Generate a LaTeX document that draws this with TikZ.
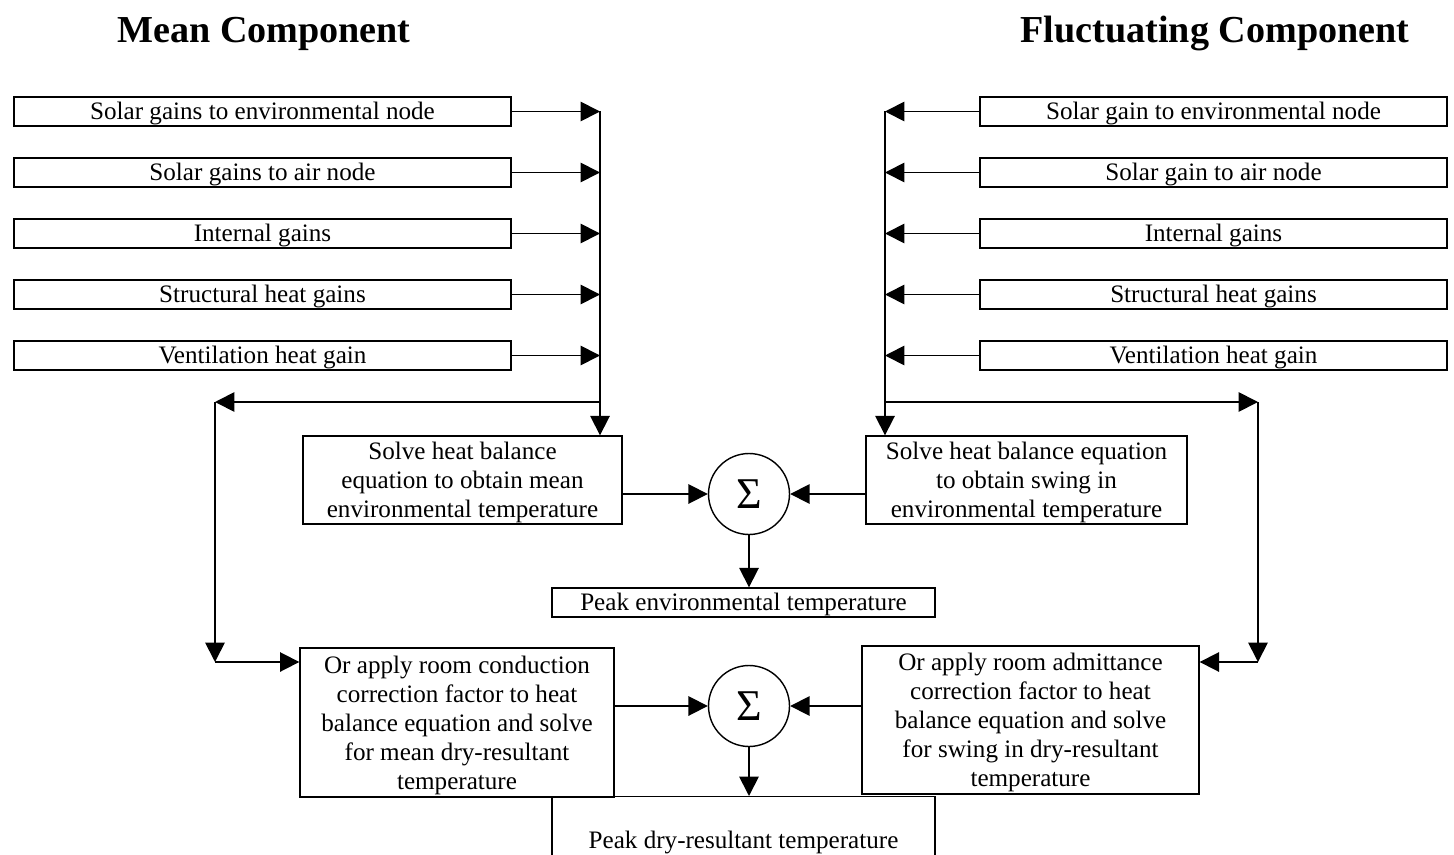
\documentclass[tikz,border=0pt]{standalone}
\usepackage{fontspec}
\setmainfont{Liberation Serif}
\usetikzlibrary{arrows.meta}

\tikzset{
  heading/.style={anchor=base, font=\fontsize{21.7}{24}\selectfont\bfseries},
  gainbox/.style={draw, line width=0.8pt, minimum height=0.58cm, inner sep=0pt,
    text height=12pt, text depth=3pt, font=\fontsize{14.3}{16.8}\selectfont},
  calcbox/.style={draw, line width=0.8pt, align=center, inner sep=0pt,
    text depth=-2pt, font=\fontsize{14.3}{16.5}\selectfont},
  peakbox/.style={gainbox, minimum width=7.66cm},
  sumnode/.style={draw, circle, line width=0.8pt, minimum size=1.62cm, inner sep=0pt,
    font=\fontsize{25}{25}\selectfont},
  wire/.style={line width=1pt},
  flow/.style={wire, -{Triangle[length=11pt,width=11pt]}},
}

\begin{document}
\begin{tikzpicture}[x=0.02cm, y=-0.02cm]
  \useasboundingbox (0,0) rectangle (1454,855);

  % headings
  \node[heading] at (264,43) (meanhead) {Mean Component};
  \node[heading] at (1215,43) (fluchead) {Fluctuating Component};

  % mean inputs
  \node[gainbox, minimum width=9.94cm] at (262.5,111.5) (msolenv) {Solar gains to environmental node};
  \node[gainbox, minimum width=9.94cm] at (262.5,172.5) (msolair) {Solar gains to air node};
  \node[gainbox, minimum width=9.94cm] at (262.5,233.5) (mint) {Internal gains};
  \node[gainbox, minimum width=9.94cm] at (262.5,294.5) (mstruct) {Structural heat gains};
  \node[gainbox, minimum width=9.94cm] at (262.5,355.5) (mvent) {Ventilation heat gain};

  % fluctuating inputs
  \node[gainbox, minimum width=9.34cm] at (1213.5,111.5) (fsolenv) {Solar gain to environmental node};
  \node[gainbox, minimum width=9.34cm] at (1213.5,172.5) (fsolair) {Solar gain to air node};
  \node[gainbox, minimum width=9.34cm] at (1213.5,233.5) (fint) {Internal gains};
  \node[gainbox, minimum width=9.34cm] at (1213.5,294.5) (fstruct) {Structural heat gains};
  \node[gainbox, minimum width=9.34cm] at (1213.5,355.5) (fvent) {Ventilation heat gain};

  % environmental temperature
  \node[calcbox, minimum width=6.38cm, minimum height=1.76cm] at (462.5,480) (mheat)
    {Solve heat balance\\equation to obtain mean\\environmental temperature};
  \node[calcbox, minimum width=6.42cm, minimum height=1.76cm] at (1026.5,480) (fheat)
    {Solve heat balance equation\\to obtain swing in\\environmental temperature};
  \node[sumnode] at (749,494) (sumenv) {Σ};
  \node[peakbox] at (743.5,602.5) (peakenv) {Peak environmental temperature};

  % dry-resultant temperature
  \node[calcbox, minimum width=6.28cm, minimum height=2.98cm] at (457,722.5) (mcond)
    {Or apply room conduction\\correction factor to heat\\balance equation and solve\\for mean dry-resultant\\temperature};
  \node[calcbox, minimum width=6.74cm, minimum height=2.96cm] at (1030.5,720) (fadmit)
    {Or apply room admittance\\correction factor to heat\\balance equation and solve\\for swing in dry-resultant\\temperature};
  \node[sumnode] at (749,706) (sumdry) {Σ};
  \node[peakbox, minimum height=1.76cm, anchor=north] at (743.5,796) (peakdry)
    {Peak dry-resultant temperature};

  % bus points
  \coordinate (mbus) at (600,111.5);
  \coordinate (msplit) at (600,402);
  \coordinate (mturn) at (215,402);
  \coordinate (mdown) at (215,662);
  \coordinate (fbus) at (885,111.5);
  \coordinate (fsplit) at (885,402);
  \coordinate (fturn) at (1258,402);
  \coordinate (fdown) at (1258,662);

  % mean side
  \draw[flow] (msolenv.east) -- (msolenv.east -| mbus);
  \draw[flow] (msolair.east) -- (msolair.east -| mbus);
  \draw[flow] (mint.east) -- (mint.east -| mbus);
  \draw[flow] (mstruct.east) -- (mstruct.east -| mbus);
  \draw[flow] (mvent.east) -- (mvent.east -| mbus);
  \draw[wire] (mbus) -- (msplit);
  \draw[flow] (msplit) -- (mheat.north -| msplit);
  \draw[flow] (msplit) -- (mturn);
  \draw[flow] (mturn) -- (mdown);
  \draw[flow] (mdown) -- (mcond.west |- mdown);

  % fluctuating side
  \draw[flow] (fsolenv.west) -- (fsolenv.west -| fbus);
  \draw[flow] (fsolair.west) -- (fsolair.west -| fbus);
  \draw[flow] (fint.west) -- (fint.west -| fbus);
  \draw[flow] (fstruct.west) -- (fstruct.west -| fbus);
  \draw[flow] (fvent.west) -- (fvent.west -| fbus);
  \draw[wire] (fbus) -- (fsplit);
  \draw[flow] (fsplit) -- (fheat.north -| fsplit);
  \draw[flow] (fsplit) -- (fturn);
  \draw[flow] (fturn) -- (fdown);
  \draw[flow] (fdown) -- (fadmit.east |- fdown);

  % summing
  \draw[flow] (mheat.east |- sumenv) -- (sumenv.west);
  \draw[flow] (fheat.west |- sumenv) -- (sumenv.east);
  \draw[flow] (sumenv.south) -- (peakenv.north -| sumenv);
  \draw[flow] (mcond.east |- sumdry) -- (sumdry.west);
  \draw[flow] (fadmit.west |- sumdry) -- (sumdry.east);
  \draw[flow] (sumdry.south) -- (peakdry.north -| sumdry);
\end{tikzpicture}
\end{document}
